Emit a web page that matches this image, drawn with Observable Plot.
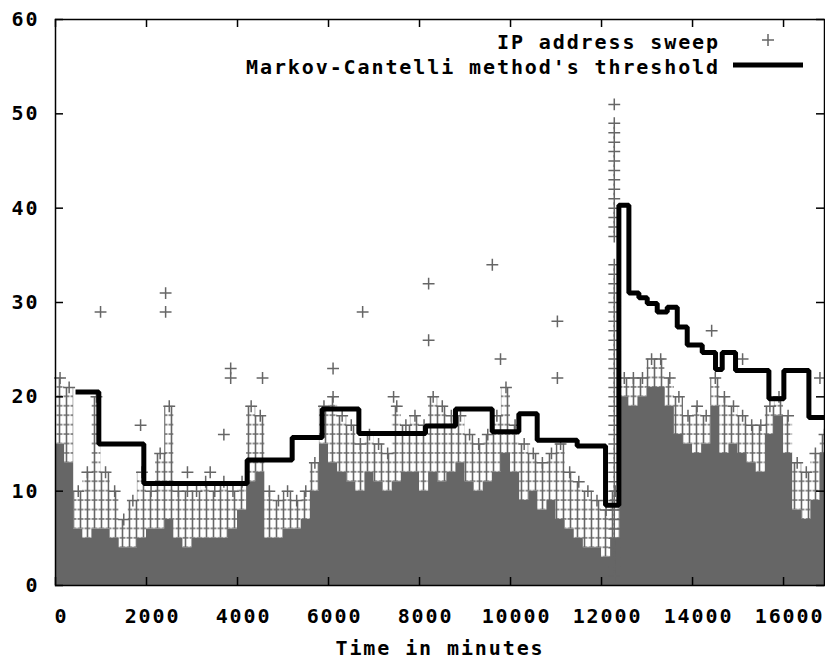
<!DOCTYPE html>
<html><head><meta charset="utf-8">
<script src="https://cdn.jsdelivr.net/npm/d3@7"></script>
<script src="https://cdn.jsdelivr.net/npm/@observablehq/plot@0.6"></script>
<style>
body{margin:0;background:#fff;}
#wrap{position:relative;width:825px;height:661px;}
#wrap svg{display:block;}
.lg{position:absolute;font:bold 20px "DejaVu Sans Mono",monospace;letter-spacing:1.9px;line-height:22px;white-space:nowrap;color:#000;}
.sym{position:absolute;}
</style></head><body><div id="wrap"></div>
<script>
// ---- data ----
const binStart = [0,200,400,600,800,1000,1200,1400,1600,1800,2000,2200,2400,2600,2800,3000,3200,3400,3600,3800,
  4000,4200,4400,4600,4800,5000,5200,5400,5600,5800,6000,6200,6400,6600,6800,7000,7200,7400,7600,7800,
  8000,8200,8400,8600,8800,9000,9200,9400,9600,9800,10000,10200,10400,10600,10800,11000,11200,11400,11600,11800,
  12000,12200,12400,12600,12800,13000,13200,13400,13600,13800,14000,14200,14400,14600,14800,15000,15200,15400,15600,15800,
  16000,16200,16400,16600,16800];
const denseTop = [15,13,6,5,6,6,5,4,4,5,6,6,7,5,4,5,5,5,5,6,
  8,11,12,5,5,6,6,7,10,15,13,12,11,10,12,11,10,11,12,12,
  10,12,11,12,13,11,10,11,12,14,12,9,10,8,9,7,6,5,4,4,
  3,5,20,19,20,21,21,19,16,15,14,15,19,14,15,14,13,12,16,18,
  14,8,7,9,14];
const peakTop = [22,21,10,12,20,12,10,7,9,12,10,14,19,10,10,10,11,10,11,10,
  11,19,18,10,9,10,9,10,13,19,20,18,17,15,16,15,14,19,17,18,
  17,20,19,18,18,16,15,16,18,21,17,15,14,13,14,15,12,11,10,9,
  8,10,22,22,22,24,24,22,20,18,19,18,22,20,19,18,17,17,19,20,
  18,13,12,14,16];
const spikeTime = 12280;
const spikeValues = [51,49,48,47,46,45,44,43,42,41,40,39,38,37,34,33,32,31,30,29,28,27,26,25,24,23,22,21,20,19,18,17,16,15,14,13,12,11,10,9,8,7,6,5,4,3,2,1];
const outlierTime = [990,1870,2420,2420,2900,3400,3700,3850,3850,4550,6100,6750,7430,8200,8200,9600,9780,11030,11030,14420,15100,16800];
const outlierValue = [29,17,31,29,12,12,16,23,22,22,23,29,20,32,26,34,24,28,22,27,24,22];
const thresholdTime = [440,952,1941,4212,5201,5861,6667,8132,8791,9597,10183,10586,11465,12088,12381,12601,12821,13004,13224,13444,13664,13883,14213,14505,14652,14945,15678,16007,16557,16900];
const thresholdValue = [20.5,15.0,10.8,13.3,15.7,18.7,16.1,16.9,18.7,16.3,18.2,15.4,14.8,8.5,40.3,31.0,30.5,29.9,29.0,29.5,27.4,25.5,24.7,22.9,24.7,22.8,19.8,22.8,17.8,17.8];
const xTicks = [0,2000,4000,6000,8000,10000,12000,14000,16000];
const yTicks = [0,10,20,30,40,50,60];
const xMax = 16900;
const yMax = 60;
const seriesLabels = ["IP address sweep", "Markov-Cantelli method's threshold"];
const xLabel = "Time in minutes";

// ---- build tables ----
const GRAY = "#666666";
const lastDense = denseTop[denseTop.length - 1], lastPeak = peakTop[peakTop.length - 1];
const bins = binStart.map((t, i) => ({t, mid: t + 100, dense: denseTop[i], peak: peakTop[i]}));
const stepRows = bins.concat([{t: xMax, dense: lastDense, peak: lastPeak}]);
const spikeRows = spikeValues.map(v => ({t: spikeTime, v}));
const outRows = outlierTime.map((t, i) => ({t, v: outlierValue[i]}));
const thrRows = thresholdTime.map((t, i) => ({t, v: thresholdValue[i]}));

const W = 825, H = 661, mT = 19, mB = 76, mL = 55, mR = 1;
const innerH = H - mT - mB, innerW = W - mL - mR, TICK = 8;
const plusR = 3.9;
const fmt = d3.format("d");

const chart = Plot.plot({
  width: W, height: H,
  marginTop: mT, marginBottom: mB, marginLeft: mL, marginRight: mR,
  style: {fontFamily: "'DejaVu Sans Mono', monospace", fontWeight: "bold", fontSize: "20px", letterSpacing: "1.9px", background: "#fff", color: "#000"},
  x: {domain: [0, xMax]},
  y: {domain: [0, yMax]},
  marks: [
    Plot.areaY(stepRows, {x: "t", y1: "dense", y2: "peak", curve: "step-after", fill: "url(#crossPat)"}),
    Plot.areaY(stepRows, {x: "t", y: "dense", curve: "step-after", fill: GRAY}),
    Plot.dot(bins, {x: "mid", y: "peak", symbol: "plus", r: plusR, stroke: GRAY, strokeWidth: 1.5}),
    Plot.dot(spikeRows, {x: "t", y: "v", symbol: "plus", r: plusR, stroke: GRAY, strokeWidth: 1.5}),
    Plot.dot(outRows, {x: "t", y: "v", symbol: "plus", r: plusR, stroke: GRAY, strokeWidth: 1.5}),
    Plot.line(thrRows, {x: "t", y: "v", curve: "step-after", stroke: "#000", strokeWidth: 5, strokeLinejoin: "miter", strokeLinecap: "butt"}),
    Plot.ruleX(xTicks, {x: d => d, insetTop: innerH - TICK, stroke: "#000", strokeWidth: 1.5}),
    Plot.ruleX(xTicks, {x: d => d, insetBottom: innerH - TICK, stroke: "#000", strokeWidth: 1.5}),
    Plot.ruleY(yTicks, {y: d => d, insetRight: innerW - TICK, stroke: "#000", strokeWidth: 1.5}),
    Plot.ruleY(yTicks, {y: d => d, insetLeft: innerW - TICK, stroke: "#000", strokeWidth: 1.5}),
    Plot.frame({stroke: "#000", strokeWidth: 1.5}),
    Plot.axisX(xTicks, {anchor: "bottom", tickSize: 0, tickPadding: 23, dx: 6, label: null, tickFormat: fmt, fill: "#000"}),
    Plot.axisY(yTicks, {anchor: "left", tickSize: 0, tickPadding: 16, label: null, tickFormat: fmt, fill: "#000"}),
    Plot.text([xLabel], {frameAnchor: "bottom", text: d => d, dy: 55, lineAnchor: "top", fill: "#000"})
  ]
});
const ns = "http://www.w3.org/2000/svg";
// cross texture for the ragged zone of stacked '+' markers, aligned to integer counts via the y scale
const ys = chart.scale("y");
const y0 = ys.apply(0), unit = Math.abs(ys.apply(0) - ys.apply(1));
const defs = document.createElementNS(ns, "defs");
defs.innerHTML = `<pattern id="crossPat" patternUnits="userSpaceOnUse" width="7" height="${unit}" x="0" y="${y0 - unit / 2}">
  <path d="M0.5,${unit / 2}H6.5M3.5,0V${unit}" stroke="${GRAY}" stroke-width="1.6" fill="none"/></pattern>`;
chart.insertBefore(defs, chart.firstChild);

const wrap = document.getElementById("wrap");
wrap.appendChild(chart);

// ---- legend (HTML overlay, top-right inside the frame) ----
const rows = [
  {label: seriesLabels[0], top: 31},
  {label: seriesLabels[1], top: 56}
];
rows.forEach(r => {
  const d = document.createElement("div");
  d.className = "lg";
  d.style.right = "105px";
  d.style.top = r.top + "px";
  d.textContent = r.label;
  wrap.appendChild(d);
});
const s1 = document.createElementNS(ns, "svg");
s1.setAttribute("class", "sym"); s1.setAttribute("width", 16); s1.setAttribute("height", 16);
s1.style.left = "760px"; s1.style.top = "32px";
s1.innerHTML = `<path d="M2,8H14M8,2V14" stroke="${GRAY}" stroke-width="1.5" fill="none"/>`;
wrap.appendChild(s1);
const s2 = document.createElementNS(ns, "svg");
s2.setAttribute("class", "sym"); s2.setAttribute("width", 72); s2.setAttribute("height", 10);
s2.style.left = "732px"; s2.style.top = "60px";
s2.innerHTML = `<path d="M1,5H71" stroke="#000" stroke-width="5" fill="none"/>`;
wrap.appendChild(s2);
</script></body></html>
